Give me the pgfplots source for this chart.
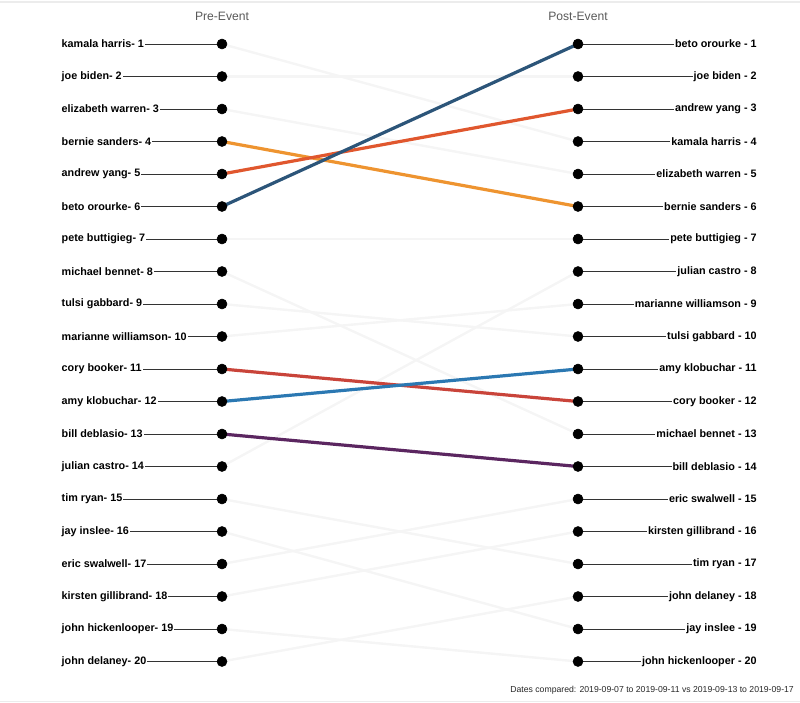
\documentclass[border=0pt]{standalone}
\usepackage{pgfplots}
\pgfplotsset{compat=1.18}
\usepackage{fontspec}
\setmainfont{Liberation Sans}
\definecolor{faint}{HTML}{F5F5F5}
\definecolor{frame}{HTML}{ECECEC}
\definecolor{leader}{HTML}{333333}
\definecolor{cBernie}{HTML}{EE9430}
\definecolor{cYang}{HTML}{E0572E}
\definecolor{cBeto}{HTML}{2C5579}
\definecolor{cBooker}{HTML}{C9443A}
\definecolor{cKlob}{HTML}{2B78B2}
\definecolor{cDeb}{HTML}{5B2660}
\tikzset{lbl/.style={font=\bfseries\fontsize{8.1}{9}\selectfont, text=black, fill=white, inner xsep=0.8pt, inner ysep=1pt}}
\begin{document}
\begin{tikzpicture}
\begin{axis}[
  scale only axis, width=600pt, height=527.25pt,
  xmin=-0.6236, xmax=1.6236, ymin=-0.3538, ymax=21.277,
  y dir=reverse, hide axis, clip=false,
]
\coordinate (bbA) at (rel axis cs:0,0);
\coordinate (bbB) at (rel axis cs:1,1);
\draw[frame, line width=1.5pt] (axis cs:-0.6236,-0.3077) -- (axis cs:1.6236,-0.3077);
\draw[frame, line width=1.1pt] (axis cs:-0.6236,21.235) -- (axis cs:1.6236,21.235);
% leader lines
\pgfplotsinvokeforeach{1,...,20}{
  \draw[leader, line width=0.75pt] (axis cs:-0.45,#1) -- (axis cs:0,#1);
  \draw[leader, line width=0.75pt] (axis cs:1,#1) -- (axis cs:1.50,#1);
}
% faint lines (pre rank -> post rank)
\addplot[faint, line width=1.8pt] coordinates {(0,1) (1,4)};
\addplot[faint, line width=1.8pt] coordinates {(0,2) (1,2)};
\addplot[faint, line width=1.8pt] coordinates {(0,3) (1,5)};
\addplot[faint, line width=1.8pt] coordinates {(0,7) (1,7)};
\addplot[faint, line width=1.8pt] coordinates {(0,8) (1,13)};
\addplot[faint, line width=1.8pt] coordinates {(0,9) (1,10)};
\addplot[faint, line width=1.8pt] coordinates {(0,10) (1,9)};
\addplot[faint, line width=1.8pt] coordinates {(0,14) (1,8)};
\addplot[faint, line width=1.8pt] coordinates {(0,15) (1,17)};
\addplot[faint, line width=1.8pt] coordinates {(0,16) (1,19)};
\addplot[faint, line width=1.8pt] coordinates {(0,17) (1,15)};
\addplot[faint, line width=1.8pt] coordinates {(0,18) (1,16)};
\addplot[faint, line width=1.8pt] coordinates {(0,19) (1,20)};
\addplot[faint, line width=1.8pt] coordinates {(0,20) (1,18)};
% highlighted
\addplot[cBernie, line width=2.4pt] coordinates {(0,4) (1,6)};
\addplot[cYang, line width=2.4pt] coordinates {(0,5) (1,3)};
\addplot[cBeto, line width=2.4pt] coordinates {(0,6) (1,1)};
\addplot[cBooker, line width=2.4pt] coordinates {(0,11) (1,12)};
\addplot[cKlob, line width=2.4pt] coordinates {(0,12) (1,11)};
\addplot[cDeb, line width=2.4pt] coordinates {(0,13) (1,14)};
% dots
\addplot[only marks, mark=*, mark size=3.75pt, black] coordinates {
(0,1)(0,2)(0,3)(0,4)(0,5)(0,6)(0,7)(0,8)(0,9)(0,10)(0,11)(0,12)(0,13)(0,14)(0,15)(0,16)(0,17)(0,18)(0,19)(0,20)
(1,1)(1,2)(1,3)(1,4)(1,5)(1,6)(1,7)(1,8)(1,9)(1,10)(1,11)(1,12)(1,13)(1,14)(1,15)(1,16)(1,17)(1,18)(1,19)(1,20)};
% left labels
\node[lbl, anchor=west] at (axis cs:-0.454,1) {kamala harris- 1};
\node[lbl, anchor=west] at (axis cs:-0.454,2) {joe biden- 2};
\node[lbl, anchor=west] at (axis cs:-0.454,3) {elizabeth warren- 3};
\node[lbl, anchor=west] at (axis cs:-0.454,4) {bernie sanders- 4};
\node[lbl, anchor=west] at (axis cs:-0.454,5) {andrew yang- 5};
\node[lbl, anchor=west] at (axis cs:-0.454,6) {beto orourke- 6};
\node[lbl, anchor=west] at (axis cs:-0.454,7) {pete buttigieg- 7};
\node[lbl, anchor=west] at (axis cs:-0.454,8) {michael bennet- 8};
\node[lbl, anchor=west] at (axis cs:-0.454,9) {tulsi gabbard- 9};
\node[lbl, anchor=west] at (axis cs:-0.454,10) {marianne williamson- 10};
\node[lbl, anchor=west] at (axis cs:-0.454,11) {cory booker- 11};
\node[lbl, anchor=west] at (axis cs:-0.454,12) {amy klobuchar- 12};
\node[lbl, anchor=west] at (axis cs:-0.454,13) {bill deblasio- 13};
\node[lbl, anchor=west] at (axis cs:-0.454,14) {julian castro- 14};
\node[lbl, anchor=west] at (axis cs:-0.454,15) {tim ryan- 15};
\node[lbl, anchor=west] at (axis cs:-0.454,16) {jay inslee- 16};
\node[lbl, anchor=west] at (axis cs:-0.454,17) {eric swalwell- 17};
\node[lbl, anchor=west] at (axis cs:-0.454,18) {kirsten gillibrand- 18};
\node[lbl, anchor=west] at (axis cs:-0.454,19) {john hickenlooper- 19};
\node[lbl, anchor=west] at (axis cs:-0.454,20) {john delaney- 20};
% right labels
\node[lbl, anchor=east] at (axis cs:1.5056,1) {beto orourke - 1};
\node[lbl, anchor=east] at (axis cs:1.5056,2) {joe biden - 2};
\node[lbl, anchor=east] at (axis cs:1.5056,3) {andrew yang - 3};
\node[lbl, anchor=east] at (axis cs:1.5056,4) {kamala harris - 4};
\node[lbl, anchor=east] at (axis cs:1.5056,5) {elizabeth warren - 5};
\node[lbl, anchor=east] at (axis cs:1.5056,6) {bernie sanders - 6};
\node[lbl, anchor=east] at (axis cs:1.5056,7) {pete buttigieg - 7};
\node[lbl, anchor=east] at (axis cs:1.5056,8) {julian castro - 8};
\node[lbl, anchor=east] at (axis cs:1.5056,9) {marianne williamson - 9};
\node[lbl, anchor=east] at (axis cs:1.5056,10) {tulsi gabbard - 10};
\node[lbl, anchor=east] at (axis cs:1.5056,11) {amy klobuchar - 11};
\node[lbl, anchor=east] at (axis cs:1.5056,12) {cory booker - 12};
\node[lbl, anchor=east] at (axis cs:1.5056,13) {michael bennet - 13};
\node[lbl, anchor=east] at (axis cs:1.5056,14) {bill deblasio - 14};
\node[lbl, anchor=east] at (axis cs:1.5056,15) {eric swalwell - 15};
\node[lbl, anchor=east] at (axis cs:1.5056,16) {kirsten gillibrand - 16};
\node[lbl, anchor=east] at (axis cs:1.5056,17) {tim ryan - 17};
\node[lbl, anchor=east] at (axis cs:1.5056,18) {john delaney - 18};
\node[lbl, anchor=east] at (axis cs:1.5056,19) {jay inslee - 19};
\node[lbl, anchor=east] at (axis cs:1.5056,20) {john hickenlooper - 20};
% headers and footer
\node[font=\fontsize{9.1}{11}\selectfont, text=black!65] at (axis cs:0,0.139) {Pre-Event};
\node[font=\fontsize{9.1}{11}\selectfont, text=black!65] at (axis cs:1,0.139) {Post-Event};
\node[font=\fontsize{6.5}{8}\selectfont, text=black!85, anchor=east, inner sep=0pt] at (axis cs:1.607,20.89) {Dates compared: 2019-09-07 to 2019-09-11 vs 2019-09-13 to 2019-09-17};
\end{axis}
\pgfresetboundingbox
\path[use as bounding box] (bbA) rectangle (bbB);
\end{tikzpicture}
\end{document}
